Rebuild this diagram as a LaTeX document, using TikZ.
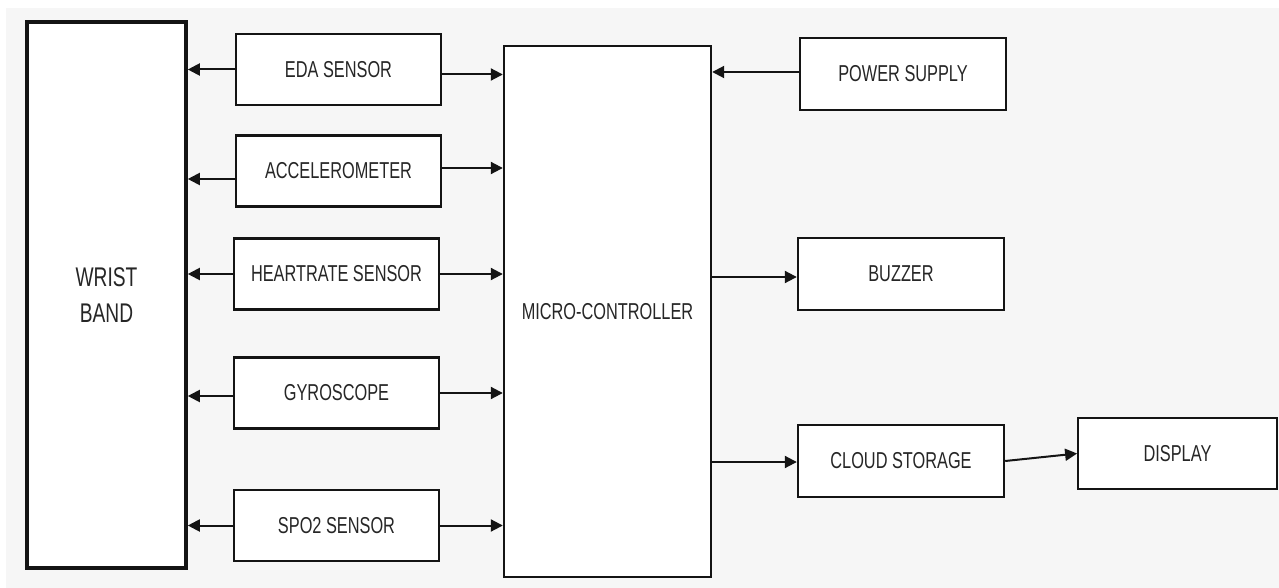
\documentclass[tikz,border=0pt]{standalone}
\usepackage{fontspec}
\setmainfont{Liberation Sans}[FakeStretch=0.71]
\usetikzlibrary{positioning, arrows.meta}
\definecolor{fondo}{HTML}{F6F6F6}
\definecolor{borde}{HTML}{141414}
\definecolor{letra}{HTML}{262626}

\tikzset{
  bloque/.style={draw=borde, fill=white, line width=2.4pt, align=center,
                 text=letra, font=\fontsize{23}{27}\selectfont, inner sep=0pt},
  sensor/.style={bloque, minimum width=205, minimum height=71},
  flecha/.style={draw=borde, line width=2pt, -{Triangle[length=12pt,width=12pt]}}
}

\begin{document}
\begin{tikzpicture}[x=1pt, y=-1pt]
  \useasboundingbox (0,0) rectangle (1279,588);
  \fill[white] (0,0) rectangle (1279,588);
  \fill[fondo] (6,8) rectangle (1279,588);

  % bloques
  \node[bloque, line width=3.6pt, minimum width=159, minimum height=546,
        font=\fontsize{27}{36}\selectfont] (pulsera) at (106.5,295) {WRIST\\BAND};
  \node[sensor] (eda)   at (338.5,69.5) {EDA SENSOR};
  \node[sensor] (acel)  at (338.5,171)  {ACCELEROMETER};
  \node[sensor] (pulso) at (336.5,274)  {HEARTRATE SENSOR};
  \node[sensor] (giro)  at (336.5,393)  {GYROSCOPE};
  \node[sensor] (spo)   at (336.5,525.5) {SPO2 SENSOR};
  \node[bloque, minimum width=207, minimum height=531] (micro) at (607.5,311.5) {MICRO-CONTROLLER};
  \node[sensor, minimum width=206, minimum height=72] (fuente) at (903,74)  {POWER SUPPLY};
  \node[sensor, minimum width=206, minimum height=72] (zumb)   at (901,274) {BUZZER};
  \node[sensor, minimum width=206, minimum height=72] (nube)   at (901,461) {CLOUD STORAGE};
  \node[sensor, line width=1.8pt, minimum width=199, minimum height=71] (pantalla) at (1177.5,453.5) {DISPLAY};

  % sensores a la pulsera y al micro
  \draw[flecha] (eda.west) -- (eda.west -| pulsera.east);
  \draw[flecha] ([yshift=-5]eda.east) -- ([yshift=-5]eda.east -| micro.west);
  \draw[flecha] ([yshift=-8]acel.west) -- ([yshift=-8]acel.west -| pulsera.east);
  \draw[flecha] ([yshift=3]acel.east) -- ([yshift=3]acel.east -| micro.west);
  \draw[flecha] (pulso.west) -- (pulso.west -| pulsera.east);
  \draw[flecha] (pulso.east) -- (pulso.east -| micro.west);
  \draw[flecha] ([yshift=-3]giro.west) -- ([yshift=-3]giro.west -| pulsera.east);
  \draw[flecha] (giro.east) -- (giro.east -| micro.west);
  \draw[flecha] (spo.west) -- (spo.west -| pulsera.east);
  \draw[flecha] (spo.east) -- (spo.east -| micro.west);

  % salidas del micro
  \draw[flecha] ([yshift=2]fuente.west) -- ([yshift=2]fuente.west -| micro.east);
  \draw[flecha] ([yshift=-3]micro.east |- zumb.west) -- ([yshift=-3]zumb.west);
  \draw[flecha] ([yshift=-1]micro.east |- nube.west) -- ([yshift=-1]nube.west);
  \draw[flecha] (nube.east) -- (pantalla.west);
\end{tikzpicture}
\end{document}
